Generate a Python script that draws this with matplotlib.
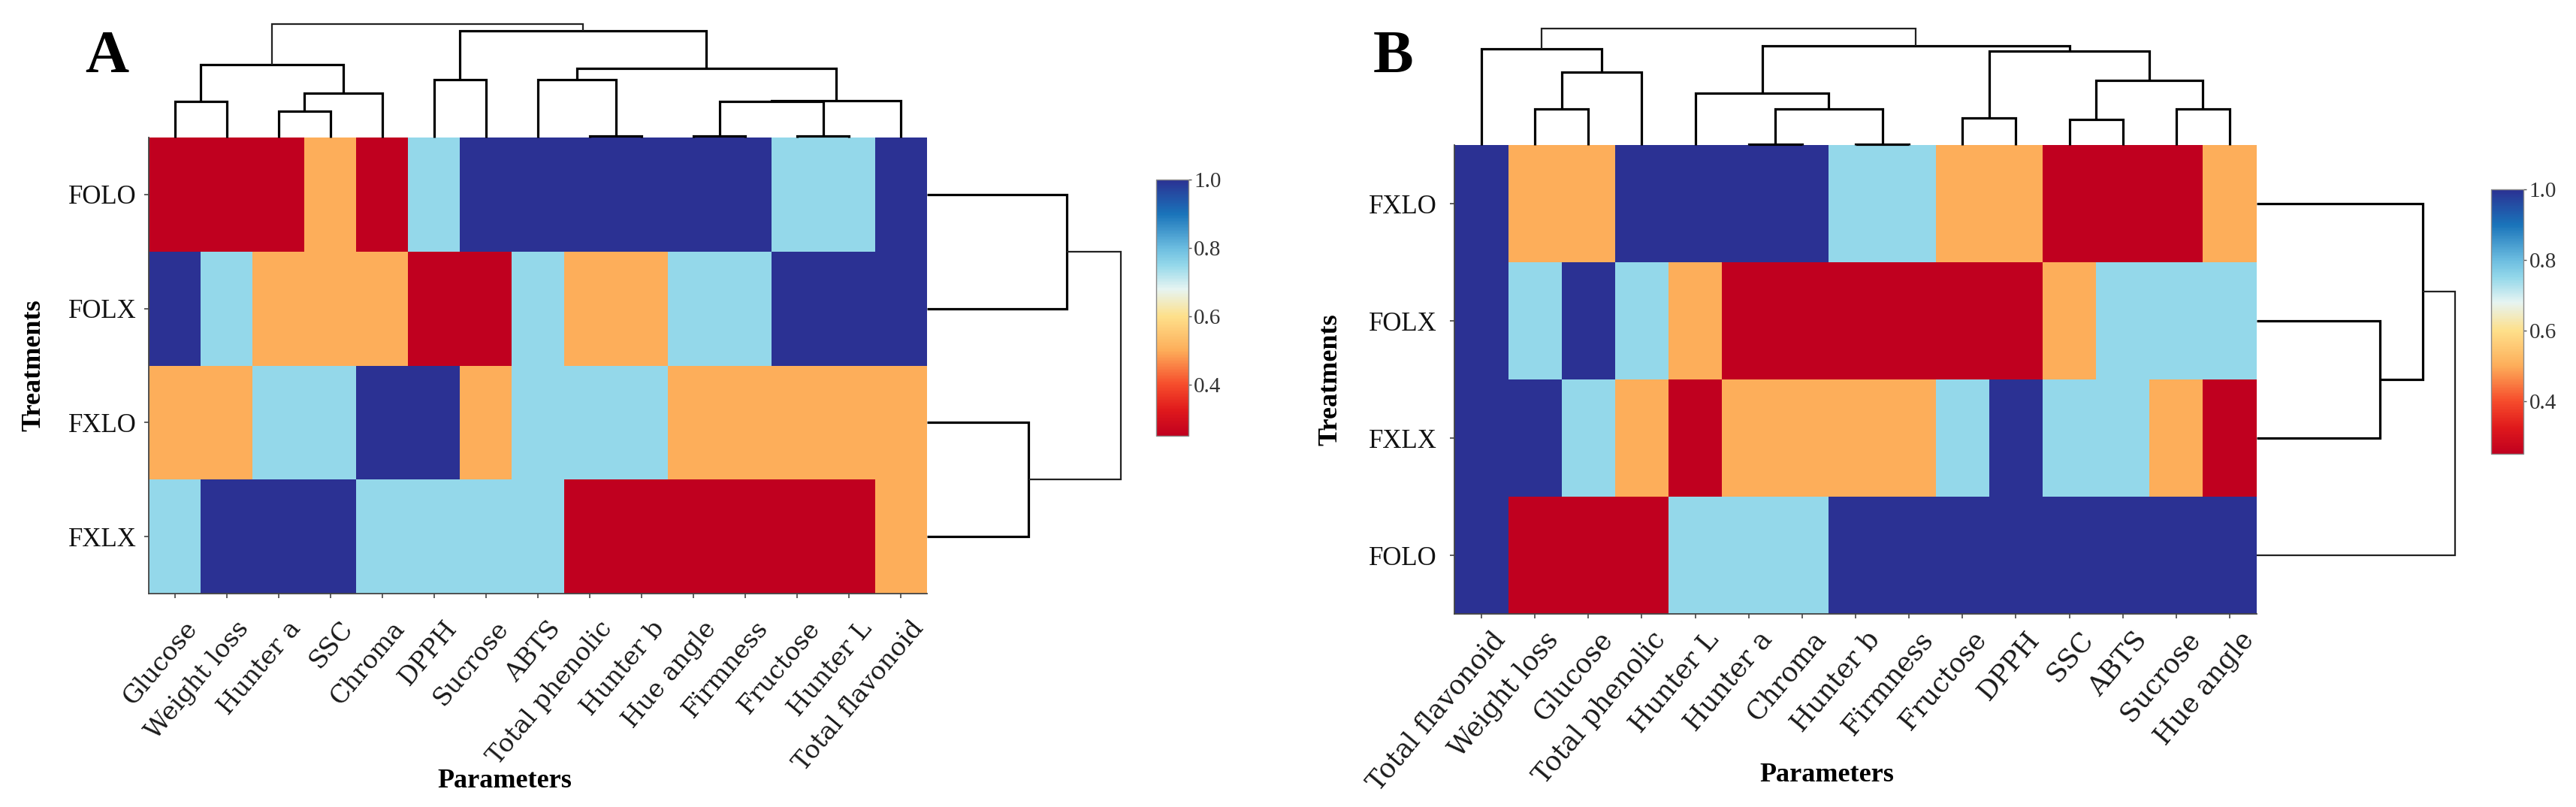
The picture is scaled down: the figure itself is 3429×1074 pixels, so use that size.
import numpy as np
import matplotlib
matplotlib.use("Agg")
import matplotlib.pyplot as plt
from matplotlib.colors import LinearSegmentedColormap, Normalize
from matplotlib.transforms import ScaledTranslation

# ---------------- data ----------------
params_a = ["Glucose", "Weight loss", "Hunter a", "SSC", "Chroma", "DPPH", "Sucrose",
            "ABTS", "Total phenolic", "Hunter b", "Hue angle", "Firmness", "Fructose",
            "Hunter L", "Total flavonoid"]
treat_a = ["FOLO", "FOLX", "FXLO", "FXLX"]
a_folo = [0.25, 0.25, 0.25, 0.5, 0.25, 0.75, 1, 1, 1, 1, 1, 1, 0.75, 0.75, 1]
a_folx = [1, 0.75, 0.5, 0.5, 0.5, 0.25, 0.25, 0.75, 0.5, 0.5, 0.75, 0.75, 1, 1, 1]
a_fxlo = [0.5, 0.5, 0.75, 0.75, 1, 1, 0.5, 0.75, 0.75, 0.75, 0.5, 0.5, 0.5, 0.5, 0.5]
a_fxlx = [0.75, 1, 1, 1, 0.75, 0.75, 0.75, 0.75, 0.25, 0.25, 0.25, 0.25, 0.25, 0.25, 0.5]

params_b = ["Total flavonoid", "Weight loss", "Glucose", "Total phenolic", "Hunter L",
            "Hunter a", "Chroma", "Hunter b", "Firmness", "Fructose", "DPPH", "SSC",
            "ABTS", "Sucrose", "Hue angle"]
treat_b = ["FXLO", "FOLX", "FXLX", "FOLO"]
b_fxlo = [1, 0.5, 0.5, 1, 1, 1, 1, 0.75, 0.75, 0.5, 0.5, 0.25, 0.25, 0.25, 0.5]
b_folx = [1, 0.75, 1, 0.75, 0.5, 0.25, 0.25, 0.25, 0.25, 0.25, 0.25, 0.5, 0.75, 0.75, 0.75]
b_fxlx = [1, 1, 0.75, 0.5, 0.25, 0.5, 0.5, 0.5, 0.5, 0.75, 1, 0.75, 0.75, 0.5, 0.25]
b_folo = [1, 0.25, 0.25, 0.25, 0.75, 0.75, 0.75, 1, 1, 1, 1, 1, 1, 1, 1]

# dendrogram merges: (node_a, node_b, height); new nodes numbered from n upward
link_a_cols = [(0, 1, 48), (2, 3, 35), (16, 4, 59), (15, 17, 97), (5, 6, 77),
               (8, 9, 2), (7, 20, 77), (10, 11, 2), (12, 13, 2), (22, 23, 48),
               (24, 14, 49), (21, 25, 92), (19, 26, 142), (18, 27, 151)]
link_a_rows = [(0, 1, 186), (2, 3, 135), (4, 5, 258)]
link_b_cols = [(1, 2, 48), (15, 3, 97), (0, 16, 128), (5, 6, 1.5), (7, 8, 1.5),
               (18, 19, 48), (4, 20, 69), (9, 10, 36), (11, 12, 34), (13, 14, 48),
               (23, 24, 86), (22, 25, 125), (21, 26, 131.6), (17, 27, 155.5)]
link_b_rows = [(1, 2, 164), (0, 4, 221), (5, 3, 264)]

cbar_ticks = [0.4, 0.6, 0.8, 1.0]

# ---------------- style ----------------
W, H = 3430, 1074
DPI = 100
fig = plt.figure(figsize=(W / DPI, H / DPI), dpi=DPI)
fig.patch.set_facecolor("white")

SERIF = ["Liberation Serif", "DejaVu Serif"]
XSERIF = ["DejaVu Serif"]

cmap = LinearSegmentedColormap.from_list("hm", [
    (0.00, "#c0001f"),
    (0.10, "#e01a1c"),
    (0.20, "#f64d2c"),
    (0.3333, "#fdae5a"),
    (0.4667, "#fee08b"),
    (0.5733, "#e6f4f2"),
    (0.6667, "#94d8ea"),
    (0.7333, "#6cbde0"),
    (0.8667, "#1a74ba"),
    (1.00, "#2b3193"),
])
norm = Normalize(vmin=0.25, vmax=1.0)


def box(x0, y0, x1, y1):
    return [x0 / W, 1 - y1 / H, (x1 - x0) / W, (y1 - y0) / H]


def draw_dendro(ax, links, n, orient, lw=2.3):
    pos = {i: i + 0.5 for i in range(n)}
    hgt = {i: 0.0 for i in range(n)}
    top = len(links) - 1
    for k, (a, b, h) in enumerate(links):
        node = n + k
        pa, pb = pos[a], pos[b]
        xs = [pa, pa, pb, pb]
        ys = [hgt[a], h, h, hgt[b]]
        w = lw * 0.7 if k == top else lw
        c = "#222222" if k == top else "black"
        if orient == "top":
            ax.plot(xs, ys, color=c, lw=w, clip_on=False,
                    solid_joinstyle="miter", solid_capstyle="butt")
        else:
            ax.plot(ys, xs, color=c, lw=w, clip_on=False,
                    solid_joinstyle="miter", solid_capstyle="butt")
        pos[node] = (pa + pb) / 2
        hgt[node] = h
    ax.axis("off")


def panel(rows, params, treats, col_links, row_links, hm, col_h, row_w, cb,
          letter, tpos, ppos, xpad, ypad, xfs, xshift):
    data = np.array(rows, dtype=float)
    n_r, n_c = data.shape
    x0, y0, x1, y1 = hm
    ax = fig.add_axes(box(x0, y0, x1, y1))
    mesh = ax.pcolormesh(np.arange(n_c + 1), np.arange(n_r + 1), data,
                         cmap=cmap, norm=norm, edgecolors="none", snap=True)
    ax.set_xlim(0, n_c)
    ax.set_ylim(n_r, 0)
    for s in ["top", "right"]:
        ax.spines[s].set_visible(False)
    for s in ["left", "bottom"]:
        ax.spines[s].set_color("#444444")
        ax.spines[s].set_linewidth(1.3)
    ax.set_xticks(np.arange(n_c) + 0.5)
    ax.set_yticks(np.arange(n_r) + 0.5)
    ax.set_yticklabels(treats, fontfamily=SERIF, fontsize=25, color="#111111")
    ax.set_xticklabels(params, fontfamily=XSERIF, fontsize=xfs, color="#1a1a1a",
                       rotation=50, ha="right", va="top", rotation_mode="anchor")
    ax.tick_params(axis="x", length=4.3, width=1.2, color="#444444", pad=xpad)
    ax.tick_params(axis="y", length=4.3, width=1.2, color="#444444", pad=ypad)
    off = ScaledTranslation(xshift / DPI, 0, fig.dpi_scale_trans)
    for lab in ax.get_xticklabels():
        lab.set_transform(lab.get_transform() + off)

    # column dendrogram
    axd = fig.add_axes(box(x0, y0 - col_h, x1, y0))
    axd.set_xlim(0, n_c)
    axd.set_ylim(0, col_h)
    draw_dendro(axd, col_links, n_c, "top")

    # row dendrogram
    axr = fig.add_axes(box(x1, y0, x1 + row_w, y1))
    axr.set_xlim(0, row_w)
    axr.set_ylim(n_r, 0)
    draw_dendro(axr, row_links, n_r, "right")

    # colorbar
    cax = fig.add_axes(box(*cb))
    cbar = fig.colorbar(mesh, cax=cax, ticks=cbar_ticks)
    cbar.outline.set_edgecolor("#8a8a8a")
    cbar.outline.set_linewidth(1.0)
    cax.tick_params(length=3, width=1.0, color="#555555", labelsize=21,
                    labelcolor="#333333", pad=2)
    for t in cax.get_yticklabels():
        t.set_fontfamily(SERIF)

    fig.text(letter[0] / W, 1 - letter[1] / H, letter[2], fontfamily=SERIF,
             fontweight="bold", fontsize=58, ha="center", va="center")
    fig.text(tpos[0] / W, 1 - tpos[1] / H, "Treatments", fontfamily=SERIF,
             fontweight="bold", fontsize=26, rotation=90, ha="center", va="center")
    fig.text(ppos[0] / W, 1 - ppos[1] / H, "Parameters", fontfamily=SERIF,
             fontweight="bold", fontsize=26, ha="center", va="center")


panel([a_folo, a_folx, a_fxlo, a_fxlx], params_a, treat_a, link_a_cols, link_a_rows,
      hm=(198, 183, 1234, 790), col_h=160, row_w=270, cb=(1539, 239, 1582, 580),
      letter=(142, 77, "A"), tpos=(45, 486), ppos=(672, 1040),
      xpad=18, ypad=7.2, xfs=24, xshift=12)

panel([b_fxlo, b_folx, b_fxlx, b_folo], params_b, treat_b, link_b_cols, link_b_rows,
      hm=(1936.5, 193, 3003.6, 817), col_h=165, row_w=275, cb=(3316, 252, 3359.5, 604),
      letter=(1855, 76, "B"), tpos=(1771, 505), ppos=(2432, 1031),
      xpad=8, ypad=12.7, xfs=25.5, xshift=12)

fig.savefig("out.png", dpi=DPI, facecolor="white")
